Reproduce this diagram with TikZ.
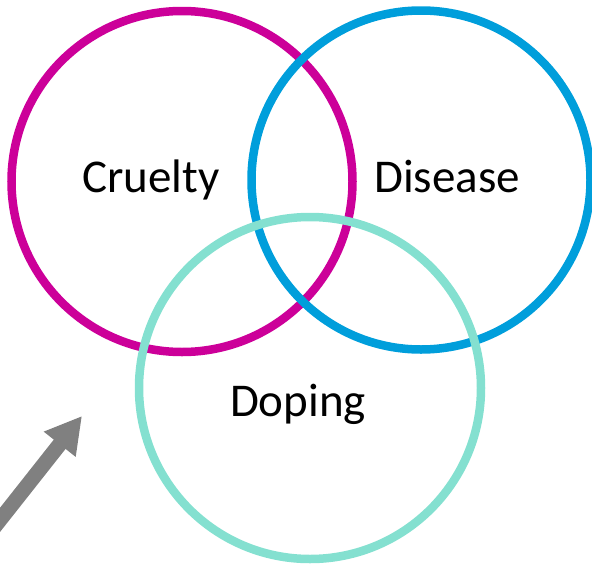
\documentclass[tikz,border=0pt]{standalone}
\usepackage{fontspec}
\setmainfont{Carlito}
\usetikzlibrary{arrows.meta}
\definecolor{cmag}{RGB}{204,0,153}
\definecolor{cblue}{RGB}{0,158,219}
\definecolor{cteal}{RGB}{132,224,208}
\definecolor{cgray}{RGB}{128,128,128}
\begin{document}
\begin{tikzpicture}[x=1pt,y=-1pt,
  ring/.style={draw=#1, line width=8.5pt, fill=none},
  lbl/.style={anchor=base, inner sep=0pt, font=\fontsize{47}{56}\selectfont}]
\useasboundingbox (0,0) rectangle (592,563);
\clip (0,0) rectangle (592,563);
\draw[ring=cmag] (182,181.5) circle[radius=170.5];
\draw[ring=cblue] (421,180) circle[radius=169.5];
\draw[ring=cteal] (310,388) circle[radius=171];
\node[lbl] (cruelty) at (151,192) {Cruelty};
\node[lbl] (disease) at (447,192) {Disease};
\node[lbl] (doping) at (298,416) {Doping};
\coordinate (astart) at (-8,530);
\coordinate (aend) at (82,416);
\draw[cgray, line width=15pt, -{Triangle[length=36pt,width=38pt]}] (astart) -- (aend);
\end{tikzpicture}
\end{document}
